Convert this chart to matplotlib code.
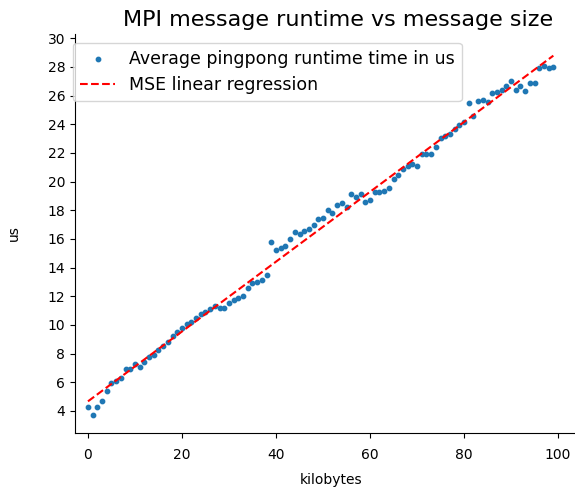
import numpy as np
import matplotlib.pyplot as plt

# message sizes (kB) and measured average pingpong time (us)
sizes = np.arange(100)
runtime = [4.26, 3.72, 4.26, 4.70, 5.40, 5.93, 6.10, 6.30, 6.90, 6.90,
           7.25, 7.10, 7.40, 7.75, 7.90, 8.25, 8.55, 8.80, 9.20, 9.50,
           9.80, 10.06, 10.20, 10.45, 10.74, 10.90, 11.10, 11.30, 11.20, 11.20,
           11.55, 11.74, 11.90, 12.00, 12.55, 12.90, 12.97, 13.15, 13.50, 15.80,
           15.20, 15.40, 15.50, 15.97, 16.47, 16.38, 16.57, 16.70, 17.00, 17.36,
           17.47, 18.00, 17.80, 18.35, 18.50, 18.20, 19.15, 18.90, 19.17, 18.60,
           18.70, 19.30, 19.30, 19.33, 19.56, 20.15, 20.45, 20.90, 21.07, 21.20,
           21.07, 21.90, 21.90, 21.90, 22.40, 23.05, 23.16, 23.30, 23.70, 23.93,
           24.16, 25.50, 24.60, 25.60, 25.70, 25.55, 26.20, 26.25, 26.40, 26.67,
           27.00, 26.40, 26.70, 26.30, 26.90, 26.90, 27.90, 28.10, 27.95, 28.00]

slope, intercept = np.polyfit(sizes, runtime, 1)
fit = slope * sizes + intercept

fig = plt.figure(figsize=(5.75, 4.9), dpi=100)
# axes runs a bit past the right edge of the canvas
ax = fig.add_axes([64.7/575, 57/490, 546/575, 399/490])
ax.scatter(sizes, runtime, s=10, label='Average pingpong runtime time in us')
ax.plot(sizes, fit, 'r--', label='MSE linear regression')
ax.set_xlim(-4.95, 111.2)
ax.set_ylim(2.46, 30.3)
ax.set_xticks([0, 20, 40, 60, 80, 100])
ax.set_yticks(np.arange(4, 31, 2))
ax.tick_params(axis='x', pad=7)
ax.spines['top'].set_visible(False)
ax.spines['right'].set_visible(False)
ax.spines['left'].set_position(('outward', -7.4))
ax.spines['bottom'].set_bounds(-2.77, 111.2)
ax.set_title('MPI message runtime vs message size', fontsize=16)
ax.set_xlabel('kilobytes', x=0.488, labelpad=8)
ax.set_ylabel('us', labelpad=19)
ax.legend(loc='upper left', fontsize=12.5)
fig.savefig('out.png')
